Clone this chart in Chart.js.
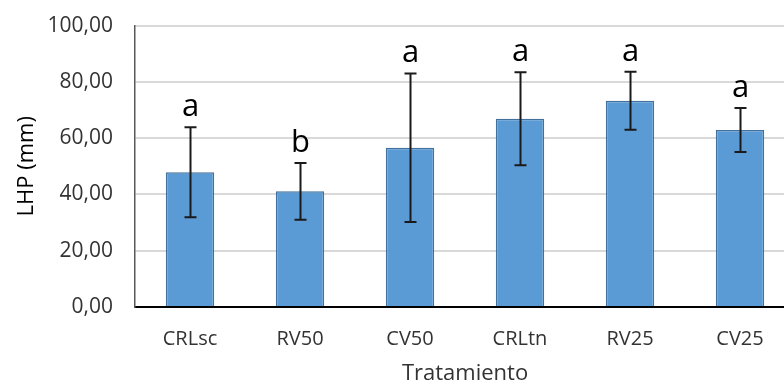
<!DOCTYPE html>
<html>
<head>
<meta charset="utf-8">
<script src="https://cdn.jsdelivr.net/npm/chart.js@4"></script>
<style>
    html, body { margin: 0; padding: 0; background: #fff; overflow: hidden; }
    #wrap { width: 800px; height: 396px; position: relative; top: -9px; }
</style>
</head>
<body>
<div id="wrap"><canvas id="lhp-chart"></canvas></div>
<script>
// Chart values
const categories = ['CRLsc', 'RV50', 'CV50', 'CRLtn', 'RV25', 'CV25'];
const means = [47.9, 41.1, 56.6, 66.9, 73.3, 62.9];
const errors = [16.0, 10.1, 26.4, 16.5, 10.3, 7.8];
const letters = ['a', 'b', 'a', 'a', 'a', 'a'];
const yTicks = [0, 20, 40, 60, 80, 100];

const FONT = '"Open Sans", "Noto Sans", sans-serif';

// Draws the error bars and significance letters over each bar
const errorBarPlugin = {
    id: 'errorBars',
    afterDatasetsDraw: function(chart) {
        const ctx = chart.ctx;
        const meta = chart.getDatasetMeta(0);
        const y = chart.scales.y;
        ctx.save();
        meta.data.forEach(function(bar, i) {
            const x = Math.round(bar.x) + 0.5;
            const top = y.getPixelForValue(means[i] + errors[i]);
            const bottom = y.getPixelForValue(means[i] - errors[i]);
            ctx.strokeStyle = '#1a1a1a';
            ctx.lineWidth = 2;
            ctx.beginPath();
            ctx.moveTo(x, top);
            ctx.lineTo(x, bottom);
            ctx.moveTo(x - 6, top);
            ctx.lineTo(x + 6, top);
            ctx.moveTo(x - 6, bottom);
            ctx.lineTo(x + 6, bottom);
            ctx.stroke();

            ctx.fillStyle = '#000';
            ctx.font = '31px ' + FONT;
            ctx.textAlign = 'center';
            ctx.textBaseline = 'alphabetic';
            ctx.fillText(letters[i], x, top - 11);
        });
        ctx.restore();
    }
};

new Chart(document.getElementById('lhp-chart'), {
    type: 'bar',
    data: {
        labels: categories,
        datasets: [{
            data: means,
            backgroundColor: '#5b9bd5',
            borderColor: '#41719c',
            borderWidth: 1.5,
            borderSkipped: 'bottom',
            barPercentage: 0.44,
            categoryPercentage: 1.0
        }]
    },
    options: {
        responsive: true,
        maintainAspectRatio: false,
        animation: false,
        layout: { padding: { top: 0, right: 5, left: 0, bottom: 0 } },
        plugins: {
            legend: { display: false },
            tooltip: { enabled: false }
        },
        scales: {
            x: {
                grid: { display: false, drawTicks: false },
                border: { color: '#000', width: 2 },
                ticks: {
                    color: '#333',
                    padding: 20,
                    font: { family: FONT, size: 20 }
                },
                title: {
                    display: true,
                    text: 'Tratamiento',
                    color: '#333',
                    padding: { top: 6, bottom: 0 },
                    font: { family: FONT, size: 22 }
                },
                afterFit: function(scale) { scale.height = 80; }
            },
            y: {
                min: 0,
                max: 100,
                afterBuildTicks: function(scale) {
                    scale.ticks = yTicks.map(function(v) { return { value: v }; });
                },
                grid: { color: '#d9d9d9', lineWidth: 2, drawTicks: false },
                border: { color: '#595959', width: 1.5 },
                ticks: {
                    color: '#333',
                    padding: 22,
                    font: { family: FONT, size: 21 },
                    callback: function(v) { return v.toFixed(2).replace('.', ','); }
                },
                title: {
                    display: true,
                    text: 'LHP (mm)',
                    color: '#000',
                    padding: { top: 14, bottom: 0 },
                    font: { family: FONT, size: 22 }
                },
                afterFit: function(scale) { scale.width = 135; }
            }
        }
    },
    plugins: [errorBarPlugin]
});
</script>
</body>
</html>
